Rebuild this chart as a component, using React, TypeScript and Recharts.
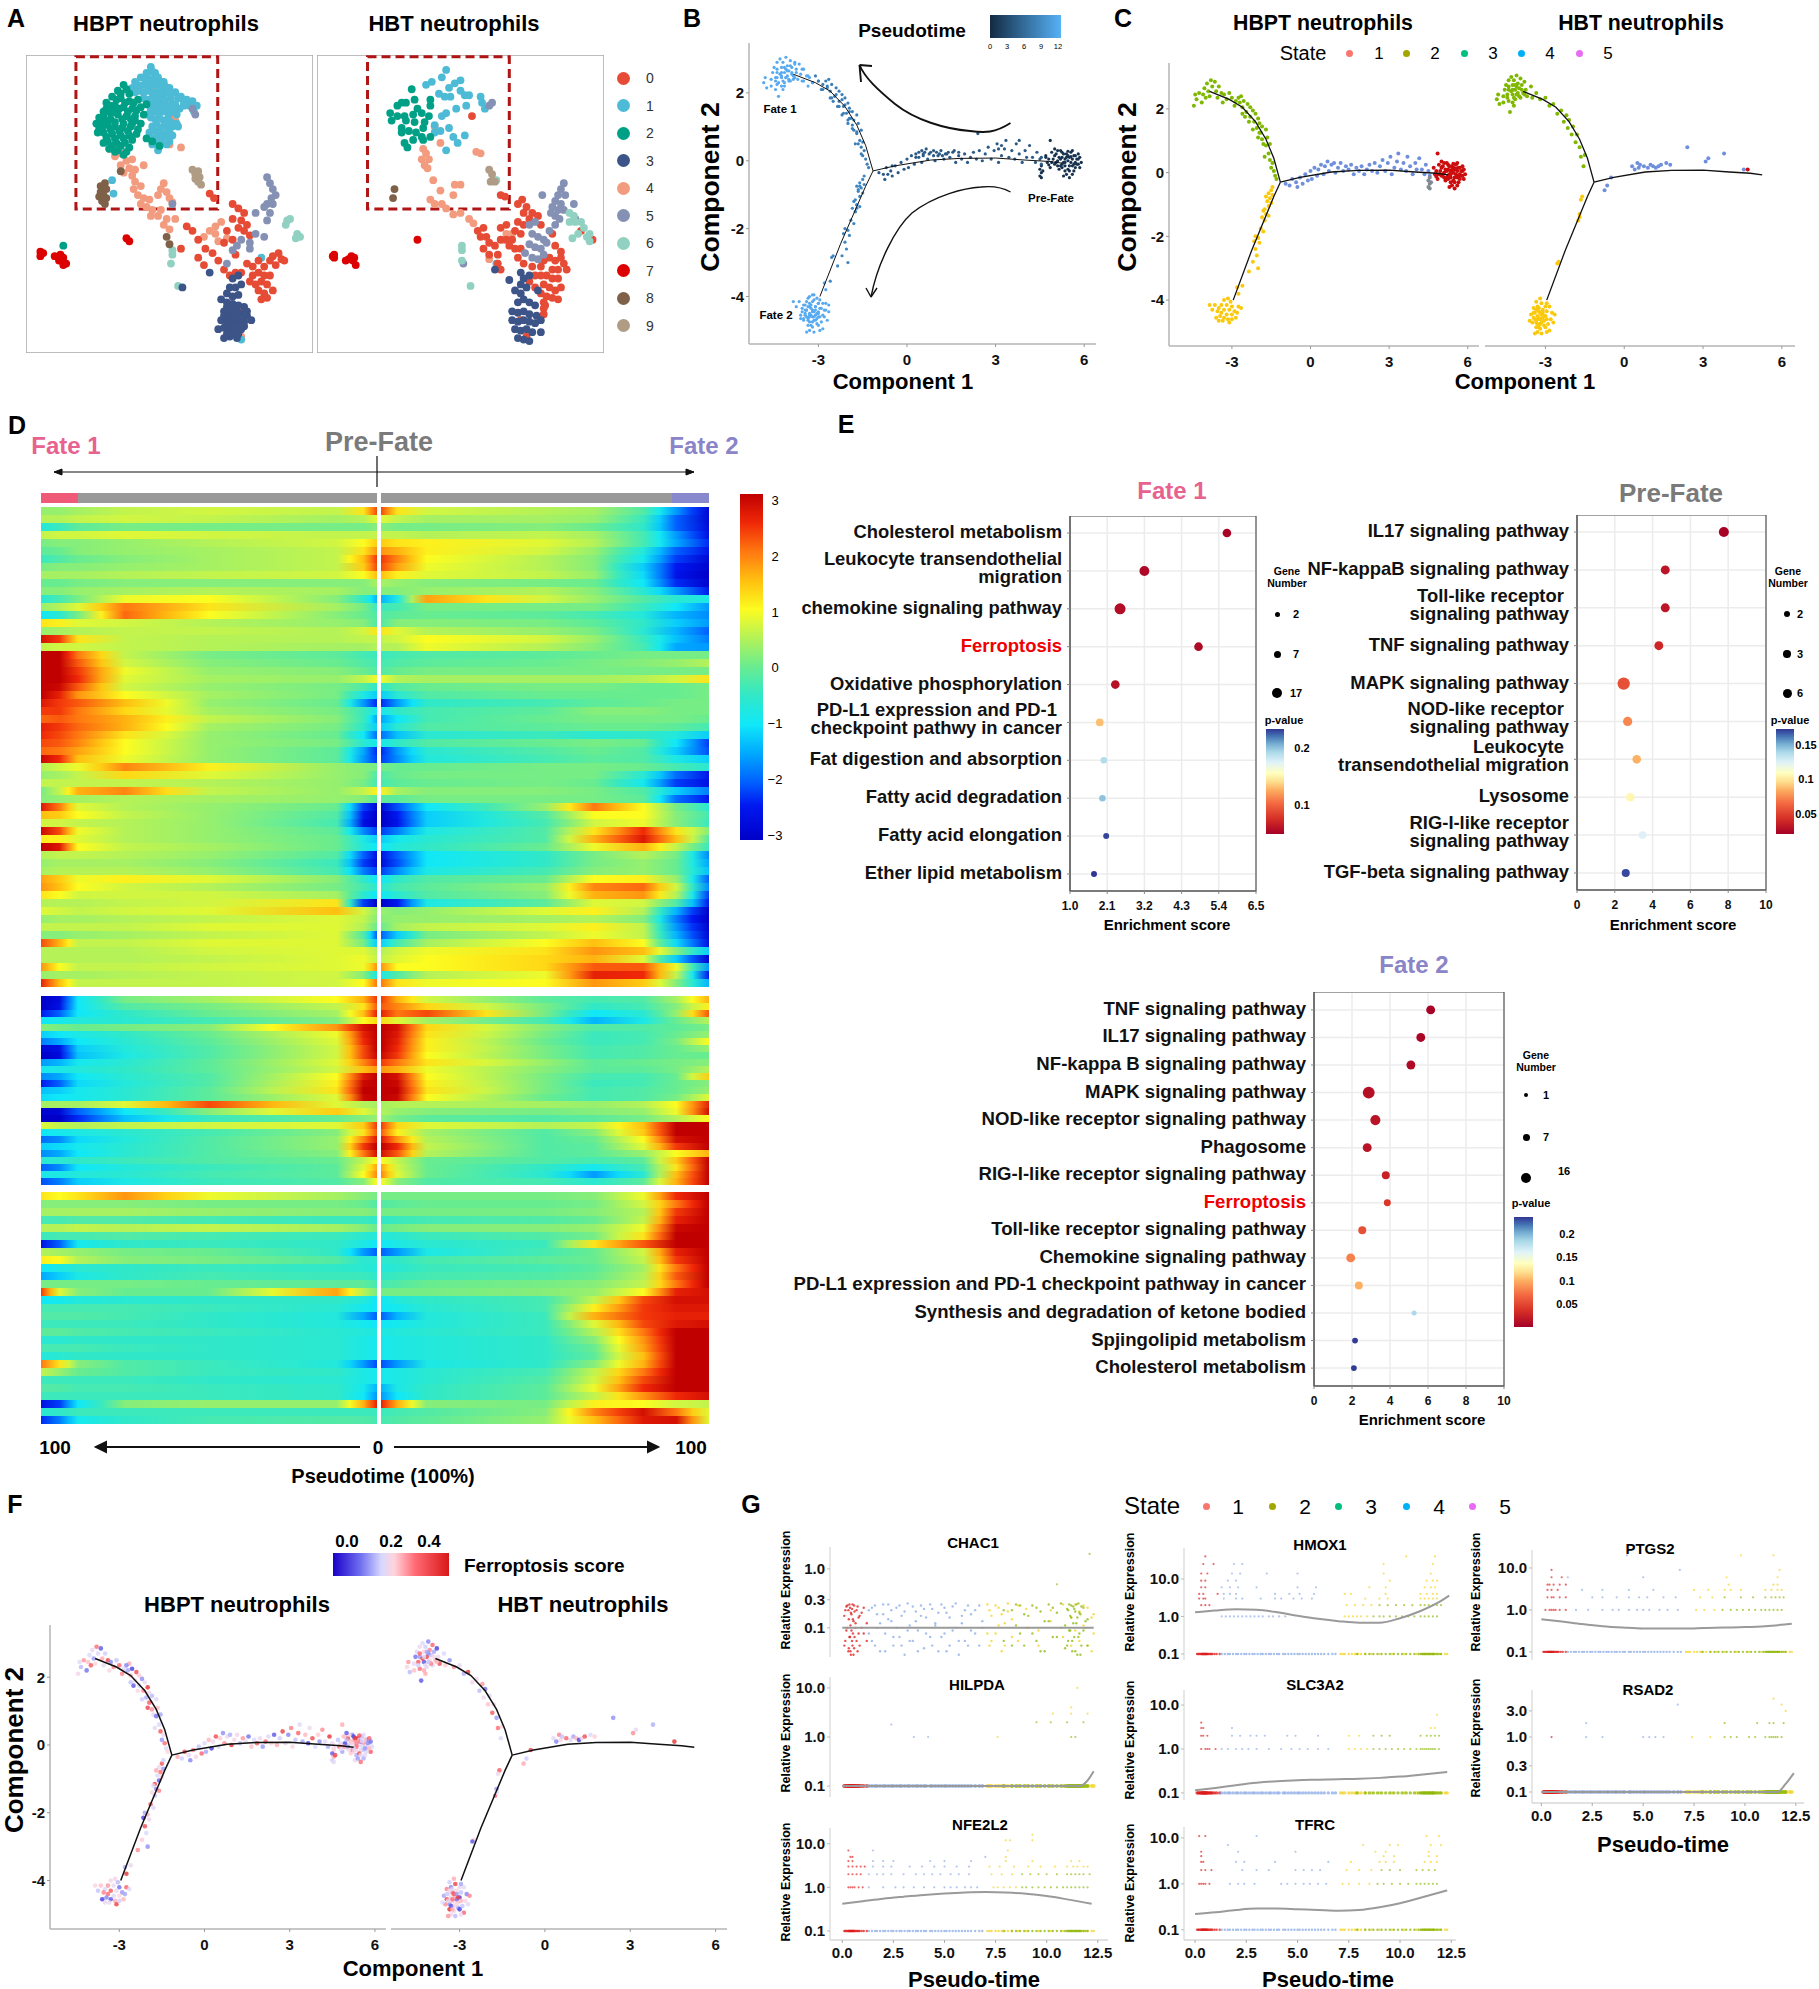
import React from 'react';
import {
  BarChart, Bar, Cell, ScatterChart, Scatter, XAxis, YAxis, ZAxis, CartesianGrid, ReferenceArea,
} from 'recharts';

const FONT = '"Liberation Sans", Arial, sans-serif';

// ---- panel A: tSNE clusters (units: 0-100 across each box)
const clusterColors = ['#e64b35', '#4dbbd5', '#00a087', '#3c5488', '#f39b7f', '#8491b4', '#91d1c2', '#dc0000', '#7e6148', '#b09c85'];
const clusterDrawOrder = [4, 1, 2, 0, 5, 6, 7, 8, 9, 3];

const hbptC0 = [[64,53.5],[65.5,52],[72,50],[74,48.5],[76,47],[75,44.5],[77,43],[76,41],[78,39.5],[74,42],[72,45],[70,41],[72,38],[69,37],[56,42.5],[58,41],[60,38],[62.5,35],[65,33.5],[67,31],[60,32],[62,29.5],[77,30],[79,29],[81,31],[83,29],[85,31],[79,26],[81,27],[83,26],[85,26],[78,24],[80,23],[82,24],[84,23],[81,21],[83,20],[84,18.5],[82,18],[86,21],[86,32.5],[88,33.5],[89,31.5],[87,29.5],[90,31],[69,28],[71,26],[73,27],[75,27],[73,33],[54,35],[75,13.5]];
const hbptC1 = [[43.5,96],[42,94],[45,94],[40,92.5],[43,92],[46,92.5],[48,91],[38,91],[41,90],[44,90],[47,89.5],[50,89],[37,89],[39.5,88],[42.5,88],[45.5,87.5],[48.5,87.5],[52,87.5],[54,86],[56,85],[58,84.5],[59.5,83],[58.5,81],[50.5,85.5],[47,85.5],[44,85.5],[41,85.5],[46,83.5],[49,83],[52,83.5],[55,83],[43,83],[44.5,81],[47.5,81],[50,80.5],[52.5,80],[42,80],[45,78.5],[48,78],[50.5,77.5],[44,76],[47,75.5],[49.5,75],[46,73],[43,74],[48.5,72.5],[45.5,70.5],[50,71],[51,73],[52.5,77],[44,70],[46,68],[53,76],[30,58],[30.5,53.5],[82,32],[75,4.5],[44,94.5],[41.5,92],[44.5,92],[47,91],[39,90],[42.5,90],[45.5,90],[48.5,89.5],[38,87.5],[41,87.5],[44,87.5],[47,87.5],[50,87.5],[53,85.5],[55,84],[57,83],[48.5,85],[45.5,85],[42.5,85],[44.5,83],[47.5,83],[50.5,83],[53.5,82],[43.5,81.5],[46,81],[49,81],[51.5,81.5],[43.5,79],[46.5,79],[49.5,79],[45.5,77],[48.5,76.5],[51,76],[45,74.5],[47.5,73.5],[50,74],[47,71.5],[49,70],[44.5,72],[46.5,69.5]];
const hbptC2 = [[34,90],[32,88],[36,87],[30,86],[33,85.5],[36,84.5],[39,85],[28,84],[31,83],[34,82.5],[37,82],[40,82.5],[27,81],[29.5,80.5],[32,80],[35,79.5],[38,79.5],[25.5,79],[28,78],[31,77.5],[34,77],[37,77],[24.5,77],[26.5,75.5],[29.5,75],[32.5,74.5],[35.5,74.5],[39,75],[25,74],[28,72.5],[31,72],[34,72],[37,71.5],[27,70.5],[30,69.5],[33,69.5],[36,69],[42,72],[44,71],[46.5,69.5],[34,66.5],[42,83.5],[31,67.5],[13,36],[35,88.5],[33,87],[31.5,85],[34.5,84],[37.5,84],[29.5,83],[32.5,82],[35.5,81],[38.5,81.5],[28,82],[30.5,81],[33.5,78.5],[36.5,78.5],[27,79.5],[29.5,78.5],[26,77.5],[28.5,76.5],[31,76],[33.5,75.5],[36.5,76],[38,78],[27,74],[30,73.5],[33,73],[36,73],[38.5,73.5],[28.5,71],[31.5,70.5],[34.5,70.5],[25.5,75.5],[29,68.5],[32,68],[35,67.5],[40,77],[41,80]];
const hbptC3 = [[64,27],[72,25],[74,26],[71,22],[73,22],[75,23],[74,19.5],[72,19],[70,20],[68,18],[70,17],[72,16.5],[74,16],[76,15.5],[69,14],[71,13.5],[73,14],[75,13],[77,12.5],[68,11],[70,11],[72,11],[74,11],[76,10.5],[78.5,11],[67,8],[69,8.5],[71,8],[73,7.5],[75,8],[69,5],[71,5.5],[73.5,5],[77,14],[54.5,22],[70,15.5],[72,14.5],[74,13.5],[76,12.5],[69,12.5],[71,12],[73,12],[75,11.5],[70,9.5],[72,9.5],[74,9],[76,9],[72,6.5],[74,6.5],[70,6.5]];
const hbptC4 = [[29,68.5],[31,66],[33,67],[35,64.5],[37,65],[33,63],[36,62],[38,61.5],[34,60.5],[37,59.5],[41,63],[38,57.5],[40,56],[37.5,55],[39,53],[41,52],[43,51.5],[40,50],[42,49],[44,48],[46,46],[47,48],[43.5,46],[49,45],[46,53],[47,55],[48,57],[49,54],[50,52],[51,50.5],[52,45],[48,43],[50,41.5],[52,79.5],[52,78],[54,69],[50,70],[44.5,88],[64,41],[66,40],[68,44],[66,42.5],[70,38.5],[67,37.5],[62,39],[75,5.5]];
const hbptC5 = [[84,59],[85,57],[86,55],[87,53],[85.5,52],[84,50],[83,49],[80,47],[84,44.5],[85,47],[86,50],[83,39],[80,40],[78,37],[73.5,36],[72,34.5],[78,35],[75,38],[70,30],[58,82],[59,80],[51,50]];
const hbptC6 = [[91,44.5],[90.5,43],[92,45],[94.5,40],[95.5,39],[94,38.5],[51,34.5],[51,33],[50.5,30],[53,22.5]];
const hbptC7 = [[5,34],[6,33.5],[5,32.5],[10,32.5],[12,33],[11.5,31],[13,32],[14,30],[13,29.5],[35,38.5],[36,37.5]];
const hbptC8 = [[26,56],[27.5,57],[28,55],[26,54],[27,53],[28,52],[26.5,51],[25.5,52.5],[27.5,50],[33,61],[49,39],[50,36.5]];
const hbptC9 = [[58,61.5],[59,60],[60,61],[59,58.5],[60.5,59],[60,57.5],[61,56.5]];

const hbtC0 = [[64,53],[65.5,52.5],[71.5,51.5],[70,50],[73,49],[72,47],[75,47],[74,45],[77,46],[70,44],[72,43],[78,43],[69,41],[71,40],[66,43],[64,42],[58,42],[56,41],[57,39],[59,39],[60,37],[62,36],[58,35],[60,33],[63,33],[64,38],[66,38],[68,38],[63,30],[64,28],[67,36],[69,35],[71,35],[70,32],[72,30],[75,29],[78,29],[81,32],[83,31],[85,32],[82,28],[84,28],[86,30],[80,26],[82,25],[84,25],[79,23],[81,22],[83,21],[85,22],[80,19],[82,18.5],[84,18],[79,31],[76,26],[78,26],[74,24],[76,22],[78,20],[79,17],[79.5,16],[85,34],[87,28],[79,13],[96,38],[92,41],[82,40],[83,36],[79,15],[71,11],[73,5.5],[54,79.5]];
const hbtC1 = [[45,95],[43.5,92.5],[40,91],[38,90],[50,91.5],[48,90.5],[46,89],[42.5,87],[44.5,86],[46.5,86],[50,88],[51.5,86.5],[53,86.5],[57,86],[57.5,84],[58.5,82],[52,83],[48.5,82],[45,80.5],[43.5,79.5],[41,76.5],[43,74.5],[46,75.5],[47.5,72.5],[51.5,73],[49,70.5],[45,68],[41,74],[62.5,30]];
const hbtC2 = [[33,88.5],[29.5,84],[31,84],[28,83],[34,85],[39.5,85],[39.5,83],[35,82],[25.5,80.5],[28,79.5],[30.5,79.5],[33.5,80],[36.5,80.5],[39,79.5],[26,78],[31,78],[34,77.5],[37.5,77.5],[29.5,75.5],[32,74.5],[29.5,74],[34.5,74],[37,75.5],[36.5,72.5],[33.5,71.5],[30.5,70.5],[31.5,69],[37,71.5],[39.5,72.5]];
const hbtC3 = [[62,28],[67,24.5],[71,27],[72,25],[74,26],[71,23],[73,22],[69,21],[71,20],[70,17],[72,18],[74,17],[76,16],[68,14],[70,13.5],[72,14],[74,13],[76.5,12.5],[68,11],[70,10.5],[72,11],[74,10.5],[76,10],[78,11],[69,8],[71,7.5],[73,8],[75,7],[70,5],[72,4.5],[74,4],[77,21],[78,7]];
const hbtC4 = [[41,76],[37,68.5],[38,67],[36.5,65],[39,65],[37.5,63],[38.5,62],[40.5,58],[48,56.5],[50,56.5],[43,54.5],[47.5,53],[39.5,51.5],[41,50],[43.5,50],[45,48.5],[47.5,46.5],[50,47],[53,45],[54.5,43.5],[55.5,67.5],[57,67],[43,70.5],[66,40],[68,40],[65,38],[60,31.5]];
const hbtC5 = [[86,57],[85,55],[84,53],[86.5,53],[83,51],[85,50],[82,49],[84,48],[86,48],[83,46],[81.5,47],[84.5,45],[83,43],[78.5,53],[89.5,50],[90,45],[75,40],[77,39],[79,38],[74,36.5],[76,35.5],[78,35],[80,37],[72.5,33.5],[75,32],[77,31.5],[79,33],[81,41],[74,43],[76,44],[51,30],[61,84],[60,83]];
const hbtC6 = [[62.5,58],[88,47],[89.5,46],[90,44],[92,44],[93,42],[95,40],[94,39],[91,40],[88,44],[95,37.5],[89,38.5],[50.5,36],[50.5,34.5],[50.5,31],[53.5,22.5]];
const hbtC7 = [[5.5,32.5],[6,32],[6,33],[10,31],[12,32.5],[12.5,31],[13.5,29.5],[13,32],[11,31.5],[35,38]];
const hbtC8 = [[27,55],[26.5,52]];
const hbtC9 = [[60,61.5],[61,60],[60.5,57.5],[62,57.5]];

const hbptClusters = [hbptC0, hbptC1, hbptC2, hbptC3, hbptC4, hbptC5, hbptC6, hbptC7, hbptC8, hbptC9];
const hbtClusters = [hbtC0, hbtC1, hbtC2, hbtC3, hbtC4, hbtC5, hbtC6, hbtC7, hbtC8, hbtC9];

// ---- panels B, C, F: monocle trajectory cells in component coordinates
const hbptFate1 = [[-4.45,2.1],[-4.35,2.3],[-4.25,2.5],[-4.4,2.45],[-4.15,2.2],[-4.1,2.45],[-4.05,2.65],[-4,2.35],[-3.95,2.8],[-3.9,2.55],[-3.8,2.9],[-3.75,2.7],[-3.85,2.4],[-3.65,2.85],[-3.6,2.55],[-3.5,2.7],[-3.4,2.5],[-3.55,2.35],[-3.3,2.45],[-3.2,2.3],[-3.35,2.2],[-3.1,2.5],[-3,2.35],[-2.85,2.25],[-2.7,2.2],[-2.6,2.05],[-2.55,2.25],[-2.45,1.9],[-2.4,2.15],[-2.3,1.75],[-2.3,2.05],[-2.2,1.95],[-2.15,1.6],[-2.1,1.85],[-2.05,1.4],[-2,1.7],[-1.95,1.55],[-1.9,1.25],[-1.85,1.45],[-1.85,1.05],[-1.8,.9],[-1.7,.85],[-1.65,1.1],[-1.6,.6],[-1.55,.4],[-1.45,.3],[-1.5,.15],[-1.4,.05],[-1.35,-.1],[-1.3,-.2],[-2.5,1.75],[-2.65,2.4],[-2.2,1.35],[-2,1.1],[-1.75,.5],[-2.75,2.35],[-2.9,2.1],[-2.35,1.6],[-2.6,1.85],[-1.95,1.25],[-1.7,1.35],[-1.55,.9]];
const hbptFate2 = [[-1.5,-.55],[-1.6,-.65],[-1.45,-.7],[-1.55,-.8],[-1.65,-.9],[-1.5,-.95],[-1.6,-1.05],[-1.7,-.75],[-1.45,-.45],[-1.75,-1.15],[-1.8,-1.2],[-1.7,-1.3],[-1.6,-1.35],[-1.85,-1.4],[-1.75,-1.5],[-1.9,-1.75],[-1.8,-1.85],[-2.1,-2],[-2,-2.05],[-2.15,-2.15],[-1.95,-2.2],[-2.1,-2.4],[-2.05,-2.6],[-2.2,-2.8],[-2,-3],[-2.35,-3.1],[-2.6,-3.55],[-2.8,-3.6],[-2.75,-3.8],[-3.3,-4],[-3.15,-3.95],[-3.05,-4.05],[-3.4,-4.15],[-3.2,-4.15],[-3,-4.2],[-3.65,-4.15],[-3.5,-4.25],[-3.3,-4.3],[-3.1,-4.3],[-2.9,-4.35],[-3.4,-4.4],[-3.2,-4.45],[-3,-4.45],[-3.3,-4.55],[-3.15,-4.6],[-3,-4.6],[-3.1,-4.7],[-3.35,-4.65],[-3.45,-4.5],[-3.55,-4.35],[-3.85,-4.15],[-3.75,-4.3],[-2.75,-4.2],[-2.65,-4.25],[-2.8,-4.4],[-2.85,-4.55],[-3.6,-4.55],[-3.5,-4.65]];
const hbptMid = [[-.95,-.35],[-.8,-.4],[-.7,-.2],[-.55,-.3],[-.5,-.45],[-.4,-.15],[-.3,-.35],[-.2,-.05],[-.1,-.25],[0,.05],[.05,-.2],[.15,.15],[.25,-.1],[.3,.1],[.4,.25],[.5,-.05],[.55,.2],[.65,.35],[.7,.05],[.8,.25],[.9,.3],[.95,0],[1.05,.15],[1.15,.3],[1.25,.05],[1.35,.2],[1.45,.1],[1.55,.25],[1.65,-.05],[1.75,.15],[1.85,.05],[1.95,.2],[2.05,-.05],[2.15,.1],[2.25,.25],[2.35,.05],[2.45,.3],[2.55,0],[2.65,.2],[2.75,.4],[2.85,.05],[2.95,.3],[3.05,.5],[3.1,-.05],[3.2,.15],[3.3,.35],[3.35,.6],[3.45,.1],[3.55,.3],[3.65,.05],[3.7,.5],[3.8,.2],[3.9,-.05],[4,.3],[4.05,.1],[4.15,.45],[4.25,.1],[4.35,-.05],[4.4,.25],[4.5,.05],[4.55,-.1]];
const hbptRoot = [[4.7,.15],[4.75,-.05],[4.8,.05],[4.85,-.2],[4.9,.25],[4.95,.05],[5,-.1],[5.05,.2],[5.1,0],[5.15,-.25],[5.2,.3],[5.25,.1],[5.3,-.05],[5.35,-.3],[5.4,.2],[5.45,0],[5.5,-.15],[5.55,.25],[5.6,.05],[5.65,-.3],[5.7,.15],[5.75,-.1],[5.8,.05],[5.85,-.2],[5.3,-.45],[5.4,-.4],[5.5,-.5],[5.6,.3],[5.1,.3],[5,.35],[4.85,.6],[5.45,.15],[5.2,-.15],[5.7,-.05],[5.5,.1],[5.35,.05],[5.25,-.2],[5.6,-.15],[5.8,.2],[5.9,-.05],[5.05,-.05],[5.15,.1],[5.25,.25],[5.35,-.15],[5.45,-.25],[5.55,-.05],[5.65,.15],[5.75,.05],[5.4,.1],[5.5,-.3],[5.6,-.4],[5.3,.2],[5.2,.05],[5.1,-.15],[5,.15],[4.9,-.05],[4.8,-.12],[5.85,.1],[5.8,-.1],[5.7,-.2],[5.45,.28],[5.55,.12],[5.65,-.1],[5.35,-.05],[5.25,-.1]];
const hbptGrey = [[4.55,-.15],[4.5,-.25],[4.55,-.35],[4.5,-.45],[4.6,-.3],[4.55,-.5]];

const hbtFate1 = [[-4.85,2.3],[-4.75,2.15],[-4.8,2.45],[-4.6,2.4],[-4.55,2.6],[-4.6,2.2],[-4.5,2.75],[-4.45,2.45],[-4.4,2.9],[-4.4,2.6],[-4.4,2.25],[-4.3,3],[-4.25,2.75],[-4.25,2.45],[-4.2,2.1],[-4.2,2.9],[-4.15,2.6],[-4.15,2.3],[-4.1,3.05],[-4.05,2.8],[-4.05,2.5],[-4,2.65],[-3.95,2.95],[-3.95,2.35],[-3.9,2.75],[-3.85,2.5],[-3.8,2.85],[-3.75,2.6],[-3.7,2.4],[-3.55,2.7],[-3.5,2.35],[-3.35,2.5],[-3.2,2.3],[-3,2.35],[-2.85,2.1],[-2.7,2.15],[-2.55,1.85],[-2.4,1.95],[-2.3,1.6],[-2.2,1.8],[-2.15,1.4],[-2.1,1.65],[-2,1.2],[-1.95,1.45],[-1.85,.95],[-1.8,1.2],[-1.7,.8],[-1.65,.5],[-1.55,.2],[-1.5,.55],[-4.35,1.9],[-4.25,2.2],[-4.45,2.35],[-4.3,2.55],[-4.2,2.35],[-4.1,2.7],[-4,2.4],[-3.9,2.6],[-4.1,2.45],[-4.4,2.7],[-4.25,2.6],[-4.15,2.75],[-3.8,2.45]];
const hbtFate2 = [[-1.6,-.75],[-1.65,-.85],[-1.7,-1.3],[-1.75,-1.5],[-1.7,-1.4],[-2.5,-2.8],[-2.55,-2.85],[-3.2,-3.95],[-3.35,-4.05],[-3.15,-4.1],[-3,-4.2],[-3.3,-4.2],[-3.45,-4.25],[-3.1,-4.3],[-2.95,-4.35],[-3.25,-4.35],[-3.4,-4.4],[-3.55,-4.45],[-3.15,-4.45],[-3,-4.5],[-3.3,-4.5],[-3.45,-4.55],[-3.2,-4.6],[-3.05,-4.65],[-3.35,-4.7],[-3.5,-4.7],[-3.2,-4.75],[-3.05,-4.8],[-3.35,-4.85],[-3.2,-4.9],[-3.3,-5],[-3.15,-5.05],[-3.4,-5.05],[-3.25,-4.25],[-3.1,-4.55],[-3.3,-4.6],[-3.6,-4.65],[-3.2,-4.4],[-3.35,-4.3],[-3.1,-4.4],[-3.25,-4.55],[-3.4,-4.6],[-3.15,-4.7],[-3.3,-4.75],[-3.25,-4.85],[-3.45,-4.4],[-3.05,-4.5],[-2.85,-4.2],[-2.75,-4.4],[-2.65,-4.45],[-2.8,-4.6],[-2.9,-4.75],[-2.85,-4.95],[-2.7,-4.7],[-2.95,-4.1],[-2.95,-4.6],[-3,-4.85],[-2.95,-5]];
const hbtMid = [[-.75,-.55],[-.65,-.4],[-.5,-.15],[.3,.2],[.4,.1],[.5,.3],[.55,.15],[.6,.25],[.75,.2],[.9,.15],[1,.25],[1.1,.2],[1.2,.15],[1.3,.2],[1.4,.25],[1.6,.3],[1.75,.25],[2.4,.8],[3.1,.35],[3.2,.45],[3.8,.6],[4.55,.1]];
const hbtRoot = [[4.7,.1]];

const trunkFate1 = [[-1.15,-.3],[-1.4,.45],[-1.7,1.05],[-2.1,1.6],[-2.6,2.05],[-3.1,2.3],[-3.85,2.55]];
const trunkFate2 = [[-1.15,-.3],[-1.4,-.75],[-2.25,-2.45],[-2.95,-4]];
const trunkRoot = [[-1.15,-.3],[-.4,-.15],[.8,.02],[1.8,.07],[3,.08],[4,.02],[4.8,-.02],[5.25,-.07]];

const compXTicks = [-3, 0, 3, 6];
const compYTicks = [-4, -2, 0, 2];

const pseudoTicks = ['0', '3', '6', '9', '12'];
const stateLabels = ['1', '2', '3', '4', '5'];
const stateDots = ['#f8766d', '#a3a500', '#00bf7d', '#00b0f6', '#e76bf3'];

// ferroptosis score per cell, read along each branch
const scoreSeq = [.22,.15,.3,.2,.08,.26,.18,.38,.21,.12,.34,.19,.24,.05,.28,.17,.42,.2,.1,.32,.23,.16,.36,.19,.13,.27,.02,.21,.4,.18,.25,.11,.31,.2,.14,.45,.22];

// ---- panel D: heatmap rows, [7 stops left of the root, root, 7 stops right of it]
const heatTop = [
  [.3,.3,.4,.6,.7,.6,1.2,2.3,1.2,.7,.5,.4,-.2,-1.6,-2.8],[.5,.5,.6,.7,.6,.4,.5,.8,.6,.4,.4,.3,-.4,-2,-2.8],
  [-.7,-.4,-.1,.1,.1,.1,.1,.2,.1,.1,.2,0,-.5,-2,-2.7],[.6,.7,.7,.8,.7,.6,.6,.6,.6,.5,.6,.4,-.3,-1.6,-2.6],
  [.1,.2,.2,.3,.5,.7,1,1.4,1.2,1.1,.8,.5,-.3,-1.5,-2.3],[-.1,0,.2,.3,.4,.6,1.2,1.8,1.6,1.1,.7,.3,-.7,-2,-2.5],
  [-.4,-.2,0,.2,.4,.6,1.5,2.4,1.9,1,.5,.2,-.9,-2.2,-2.8],[.1,.2,.2,.3,.4,.6,1.4,2.3,1.7,.9,.5,.2,-1.2,-2.4,-2.9],
  [.4,.4,.4,.5,.6,.7,1,1.5,1.1,.8,.6,.3,-1.1,-2.5,-3],[0,0,.1,.2,.2,.2,.2,.4,.3,.2,.1,0,-1,-2.3,-2.9],
  [.2,.2,.3,.4,.5,.4,.2,.2,.2,.3,.5,.2,-.6,-1.6,-2.4],[-.6,-.3,.1,.9,1,.2,-.5,-1.4,-.8,1.7,.7,.3,-.2,-.6,-.8],
  [.3,.5,.8,2,1.2,.4,.1,-.4,-.3,.1,.1,.1,-.4,-1,-1.6],[-1,-.6,.1,2.1,1,.2,0,-.2,-.1,0,-.1,-.3,-.7,-1.4,-1.7],
  [1.2,1.1,.8,.7,.5,.3,.2,-.2,.2,.2,.1,-.1,-.5,-1.2,-1.6],[.3,.4,.5,.6,.6,.5,.7,1.2,.8,.5,.3,.1,-.6,-1.4,-2],
  [2.8,2.4,1.2,.6,.5,.5,.6,.6,.7,1,.7,.3,-.4,-1.3,-1.8],[.6,.7,.7,.6,.5,.4,.4,.5,.5,.9,.5,.2,-.3,-1.5,-1.6],
  [3,3,2,.6,.1,-.1,-.3,-.4,-.3,-.2,-.1,0,.1,.1,.1],[3,3,2.2,.7,.2,0,-.2,-.3,-.2,-.1,0,.1,.2,.3,.5],
  [3,3,2.4,.9,.3,.2,0,-.2,0,.1,.1,.1,.1,.1,.1],[3,3,2.5,.8,.4,.3,.6,.9,.5,.4,.4,.4,.5,.7,1.2],
  [3,2.9,2.2,.7,.3,.1,-.2,-.5,-.2,0,.1,.1,0,0,.1],[3,2.6,1.8,1,.4,.1,-.8,-1.2,-.6,-.2,0,0,0,0,.1],
  [2.7,2.4,2.2,1.5,.3,0,-1.6,-2.3,-1.6,-.5,-.3,-.1,0,.1,.1],[2.4,2.4,2,1.3,.4,.1,-.4,-.9,-.5,-.3,-.1,.2,.2,.1,.1],
  [2.1,2.2,2,1.6,.6,.2,-.4,-1.5,-1,-.3,0,.1,.1,.1,0],[2.6,2.4,2.1,1.6,.4,.1,-.5,-1.2,-.6,-.2,-.1,0,0,-.1,-.3],
  [2.5,2.3,2,1.2,.3,0,-1,-1.9,-1.3,-.6,-.4,-.6,-.5,-.7,-1.2],[2.3,2.2,1.9,1,.3,.1,-.6,-.9,-.5,-.2,0,.1,0,-1,-2.2],
  [2.1,2,1.7,1,.3,-.1,-1.5,-2.3,-1.6,-.6,-.2,0,-.2,-1.2,-2.1],[2.9,2.5,1.5,.9,.3,-.1,-1.6,-2.2,-1.7,-.7,-.3,-.1,-.2,-.8,-1.2],
  [.5,.7,.9,1.9,1.1,.3,.2,.1,0,0,.1,.1,0,-.3,-.6],[.3,.4,.6,1.3,.8,.3,.2,-.2,0,.1,.1,.1,-.6,-1.9,-2.5],
  [.6,.6,.6,.6,.5,.3,.1,-.3,-.1,0,.1,0,-.9,-2.2,-2.6],[.1,.6,1.6,1.9,.6,.3,.6,1.1,.4,.2,.2,.1,-.2,-1.2,-1.8],
  [.2,.3,.4,.5,.4,.3,.2,-.1,-.1,.1,.1,.1,-.1,-1.9,-2.4],[2.7,2,.8,.5,.3,0,-2.2,-2.8,-2.1,-1,.3,2,1,.1,-.6],
  [1.5,1.4,1,.6,.3,-.2,-2.4,-3,-2.4,-1.2,-.2,1,1,.2,-.3],[.7,.7,.6,.5,.3,-.3,-2.6,-3,-2.5,-1.2,-.3,.7,.9,.2,-.4],
  [2.9,2.3,.9,.5,.3,-.1,-1.7,-2.2,-1.8,-.8,-.2,1.2,2.5,1.2,.2],[1.1,1.1,.8,.5,.3,0,-.8,-1.2,-.9,-.6,-.2,1.6,2.7,1.5,-.2],
  [3,2.7,1,.6,.4,0,-.7,-1,-.7,-.5,0,.9,1.6,.6,-.4],[.5,.6,.6,.5,.3,-.2,-2,-2.6,-2,-1,-.5,.1,.5,.1,-1.7],
  [.3,.4,.4,.4,.2,-.4,-2.2,-2.7,-2.1,-1,-.5,.1,.3,0,-1.5],[.4,.5,.5,.5,.3,-.3,-1.8,-2.2,-1.7,-.8,-.3,.2,.3,0,-1.3],
  [1.7,1.4,.9,1.1,.8,.2,-.5,-1,-.5,-.2,0,1,1.1,.3,-2],[1.8,1.5,1,.7,.5,.1,-.3,-.6,-.3,-.1,.3,1.9,2.1,.7,-1.7],
  [1.2,1,.7,.7,.7,.4,-.6,-1,-.6,-.2,.2,1.6,1.8,.5,-2.2],[.5,.5,.5,.6,.7,1.2,-2.2,-3,-2.4,-.8,-.1,.8,.7,-.2,-2.4],
  [.8,.7,.6,.7,.8,1.5,.7,.3,.2,.3,.8,1.1,.5,-1.4,-3],[.3,.4,.4,.5,.6,.8,.6,.2,.3,.3,.4,.5,.2,-1.8,-3],
  [.6,.6,.6,.6,.8,.8,.5,0,.4,.6,.8,1.1,.6,-1.6,-2.9],[.2,.2,.3,.4,.6,.8,-.2,-2,-1.2,.1,.6,.9,.6,-1.4,-2.8],
  [2.3,1.6,.6,.6,.8,.8,.1,-1.2,-.3,.4,1,1.5,1,-1.1,-2.6],[.5,.5,.5,.5,.7,.8,.8,.5,.7,.9,1.2,1.8,1.5,.2,-1.2],
  [.5,.5,.5,.5,.6,.8,.9,.6,.8,1,1.3,1.6,.8,-1.2,-2.9],[1.8,1,.6,.6,.7,.8,.9,1.8,1,1,1.3,2.2,2.2,.9,-1.6],
  [.3,.4,.4,.5,.6,.7,.2,-.8,-.2,.5,.9,2.6,2.5,.6,-2.4],[2.6,1.5,.6,.6,.6,.7,1,2,1.2,.9,1,1.8,1.4,.2,-1.4],
];
const heatMid = [
  [-3,-2.7,-1,.1,.4,1,1.6,2.4,1.6,.7,-.1,-.3,-.2,.4,1.6],[-3,-2.6,-1,-.2,.1,.6,1.2,2.2,1.9,1.3,.1,-.5,-.3,.2,1.1],
  [-2.4,-2,-1,-.5,0,.4,1.5,2.6,2,2.3,.1,-1,-.6,.3,2.2],[-1,-.9,-.7,-.6,-.3,.2,1,1.3,.8,.4,-.3,-1.4,-.8,0,.5],
  [.2,.1,0,.1,.2,1.8,2.8,3,2.8,1.3,.2,-.2,-.2,-.1,.1],[-1.2,-1,-.8,-.5,0,.9,2.6,3,2.7,1.2,.1,-.4,-.3,0,.3],
  [-1.8,-1.5,-1,-.6,-.1,.8,2.5,3,2.6,1.1,0,-.4,-.3,.1,1],[-2.8,-2.6,-1.2,-.7,-.2,.7,2.3,3,2.5,1.1,.1,-.3,-.2,0,.3],
  [-3,-2.7,-1.3,-.8,-.2,.7,2.3,2.9,2.4,1,.1,-.3,-.2,0,0],[-1.6,-1.4,-.9,-.6,-.1,.8,1.9,2.4,2,1.2,.3,-.1,0,.1,.2],
  [-.9,-.8,-.7,-.5,-.1,.7,1.5,1.8,1.6,.9,.2,-.1,-.1,.1,.5],[-1.7,-1.5,-1,-.6,-.2,1,2.7,3,2.8,1,.1,-.3,-.3,0,1.4],
  [-2.4,-2,-1.1,-.7,-.2,1.1,2.9,3,2.9,1.1,.1,-.4,-.3,0,.2],[-1.3,-1.2,-.9,-.6,-.1,1.2,3,3,3,1.2,.1,-.3,-.2,0,.3],
  [-1.1,-1,-.9,-.6,-.1,.8,2.9,3,2.9,1,0,-.3,-.2,.1,.8],[.4,.4,.4,.8,2.3,.8,.5,.4,.5,.5,.4,.3,.5,1,2.6],
  [-2.9,-2.8,-2,-1,.2,1.4,.8,.5,.3,.2,.1,.2,.3,.9,2.8],[-3,-3,-2.3,-1.3,-.4,0,.2,.3,.1,-.1,-.2,-.1,.1,.5,1],
  [.8,.6,.5,.6,.7,.8,1.4,2.4,1.3,.8,.5,.6,1.5,3,3],[-1,-.9,-.8,-.6,-.3,.2,1.2,2.2,1.1,.4,-.2,.2,1.4,3,3],
  [-1.9,-1.7,-1.1,-.7,-.2,.3,1.9,2.7,1.8,.5,-.2,0,1,2.8,3],[-1.2,-1.1,-.9,-.6,-.2,.3,2.4,3,2.5,.6,-.2,-.1,.8,2.4,3],
  [-1.7,-1.5,-1,-.6,-.2,.2,2,2.8,2.2,.5,-.2,-.1,.3,1,1.6],[-.6,-.6,-.5,-.4,-.2,0,.6,1,.6,0,-.2,-.3,-.1,1.4,3],
  [-2,-1.7,-1,-.7,-.4,-.1,.8,1.7,.7,0,-.5,-.9,-.3,1.2,3],[-.8,-.8,-.7,-.6,-.3,-.1,1,1.9,.8,0,-.6,-1.6,-.6,1.5,3],
  [-2.1,-1.8,-1.2,-.8,-.4,-.2,.2,1,.2,-.2,-.3,-.6,-.1,1.6,3],
];
const heatBottom = [
  [1.2,1,1.2,1.8,.9,.4,.2,.1,.1,.1,.1,.2,.9,2.5,3],[.2,.2,.2,.2,.1,.1,0,-.2,-.1,0,0,.1,.7,2,3],
  [.4,.4,.4,.4,.3,.2,.2,.1,.1,.1,.1,.2,.5,2.4,3],[-.3,-.3,-.2,-.2,-.3,-.4,-.4,-.5,-.4,-.3,-.2,0,.6,2.6,3],
  [.5,.5,.6,.5,.6,.4,.2,0,.1,.2,.2,.3,.9,2.9,3],[-.4,-.3,-.3,-.2,-.3,-.4,-.6,-.7,-.6,-.4,-.2,.1,1.2,3,3],
  [-2.6,-2,-.9,-.5,-.4,-.5,-.8,-1,-.8,-.6,-.4,1.2,2.2,3,3],[.5,.4,.3,.1,0,-.5,-1.6,-2,-1.6,-.8,-.3,0,.7,2.6,3],
  [1.1,1,.5,.2,.1,-.2,-.6,-.6,-.5,-.3,-.1,0,.6,2.4,3],[-1,-.8,-.6,-.5,-.4,-.5,-.6,-.7,-.6,-.4,-.3,-.1,.4,2,3],
  [-1.5,-1.2,-.8,-.5,-.3,-.4,-.4,-.5,-.4,-.3,-.2,0,.5,2.2,3],[.1,.1,.1,.1,0,-.1,-.1,-.3,-.2,0,.1,.2,.6,2,3],
  [2.4,.8,.2,0,0,1.7,.5,.1,.1,.1,.2,.3,1,2.6,2.8],[-1,-.9,-.7,-.6,-.5,-.5,-.7,-1,-.7,-.5,-.3,.6,2.3,2.8,2.8],
  [-.3,-.3,-.3,-.3,-.4,-.6,-.9,-1,-.9,-.6,-.3,1.1,2.4,2.7,2.7],[-.2,-.2,-.2,-.3,-.5,-.7,-1.5,-2,-1.4,-.7,-.4,1.6,2.4,2.6,2.6],
  [-.4,-.4,-.4,-.4,-.5,-.7,-.9,-1,-.9,-.7,-.4,.8,2.3,2.7,2.8],[-.1,-.1,-.2,-.3,-.4,-.6,-.7,-.8,-.7,-.6,-.4,.5,2,3,3],
  [-.6,-.6,-.5,-.5,-.5,-.6,-.8,-.9,-.8,-.7,-.5,.2,1.8,3,3],[-.3,-.3,-.3,-.4,-.5,-.6,-.8,-.9,-.8,-.7,-.5,0,1.7,3,3],
  [-.7,-.6,-.5,-.5,-.5,-.6,-.8,-.9,-.8,-.7,-.5,-.1,1.5,3,3],[2,1.2,.2,-.2,-.4,-.7,-1.6,-2.1,-1.6,-.8,-.5,.2,1.6,3,3],
  [.6,.3,0,-.2,-.4,-.5,-.8,-.9,-.8,-.6,-.3,.6,2,3,3],[-.4,-.4,-.4,-.4,-.5,-.6,-.8,-.9,-.8,-.6,-.2,.7,2.3,3,3],
  [-.2,-.2,-.3,-.3,-.4,-.5,-.9,-1.4,-.8,-.5,-.1,.9,2.5,3,3],[-.4,-.4,-.4,-.4,-.4,-.5,-1,-1.6,-1,-.5,-.1,.6,1.8,2.5,2.8],
  [-2.6,-2.2,-1,.2,.3,.3,1.6,2.6,1.6,.2,.1,1.1,1,.7,.6],[-.6,-.5,-.4,-.4,-.4,-.4,-.4,-.4,-.3,-.2,.2,1.9,2.8,2,.8],
  [-2.3,-1.8,-.9,-.5,-.3,-.2,-.2,-.3,-.2,-.1,.3,1.5,2.7,2.8,.8],
];
const heatLeftStops = [0, .055, .11, .25, .5, .88, .96, 1];
const heatRightStops = [0, .05, .14, .5, .65, .8, .9, 1];
const heatScaleTicks = ['3', '2', '1', '0', '\u22121', '\u22122', '\u22123'];

const jetStops: [number, string][] = [[-3,'#0000c8'],[-2.4,'#0018f0'],[-2,'#0060ff'],[-1.5,'#00a8ff'],[-1,'#10e8f8'],[-.5,'#30e8c8'],[0,'#68ec90'],[.5,'#b4f258'],[1,'#fcfc20'],[1.5,'#ffc010'],[2,'#ff7810'],[2.5,'#f02808'],[3,'#c00000']];
const rdylbuStops: [number, string][] = [[0,'#a50026'],[.15,'#d73027'],[.3,'#f46d43'],[.42,'#fdae61'],[.5,'#fee090'],[.58,'#ffffbf'],[.68,'#e0f3f8'],[.78,'#abd9e9'],[.86,'#74add1'],[.93,'#4575b4'],[1,'#313695']];
const scoreStops: [number, string][] = [[-.05,'#1a00c8'],[.08,'#6f6ff0'],[.18,'#d8d8ff'],[.24,'#ffd4dc'],[.34,'#ff6a74'],[.5,'#d81818']];

// ---- panel E: enrichment bubbles
const fate1Pathways = ['Cholesterol metabolism', 'Leukocyte transendothelial\nmigration', 'chemokine signaling pathway', 'Ferroptosis', 'Oxidative phosphorylation', 'PD-L1 expression and PD-1 \ncheckpoint pathwy in cancer', 'Fat digestion and absorption', 'Fatty acid degradation', 'Fatty acid elongation', 'Ether lipid metabolism'];
const fate1Scores = [5.64, 3.2, 2.48, 4.8, 2.34, 1.88, 2, 1.96, 2.07, 1.71];
const fate1Genes = [7, 10, 13, 7, 7, 5, 3, 3, 2, 2];
const fate1Pvalues = [.052, .055, .057, .055, .06, .132, .19, .2, .23, .233];
const fate1XTicks = [1, 2.1, 3.2, 4.3, 5.4, 6.5];

const preFatePathways = ['IL17 signaling pathway', 'NF-kappaB signaling pathway', 'Toll-like receptor \nsignaling pathway', 'TNF signaling pathway', 'MAPK signaling pathway', 'NOD-like receptor \nsignaling pathway', 'Leukocyte \ntransendothelial migration', 'Lysosome', 'RIG-I-like receptor\nsignaling pathway', 'TGF-beta signaling pathway'];
const preFateScores = [7.77, 4.67, 4.67, 4.33, 2.47, 2.68, 3.16, 2.82, 3.47, 2.58];
const preFateGenes = [4, 3.2, 3.2, 3.2, 6, 3.4, 3, 3, 2.4, 2.6];
const preFatePvalues = [.021, .03, .03, .038, .055, .073, .085, .105, .125, .17];

const fate2Pathways = ['TNF signaling pathway', 'IL17 signaling pathway', 'NF-kappa B signaling pathway', 'MAPK signaling pathway', 'NOD-like receptor signaling pathway', 'Phagosome', 'RIG-I-like receptor signaling pathway', 'Ferroptosis', 'Toll-like receptor signaling pathway', 'Chemokine signaling pathway', 'PD-L1 expression and PD-1 checkpoint pathway in cancer', 'Synthesis and degradation of ketone bodied', 'Spjingolipid metabolism', 'Cholesterol metabolism'];
const fate2Scores = [6.14, 5.62, 5.1, 2.88, 3.23, 2.8, 3.78, 3.86, 2.54, 1.93, 2.36, 5.27, 2.16, 2.1];
const fate2Genes = [8, 8, 8, 16, 11, 8, 6, 4, 6, 8, 6, 1, 2, 2];
const fate2Pvalues = [.003, .005, .008, .012, .015, .015, .025, .04, .055, .08, .1, .184, .235, .235];
const enrichTicks = [0, 2, 4, 6, 8, 10];

// ---- panel G: pseudotime strips, shared zero-level cells and gene levels
const timeTicks = [0, 2.5, 5, 7.5, 10, 12.5];
const stateColors = { red: '#dd1c1c', blue: '#8aa9e6', yellow: '#f4d21f', green: '#8db80a' };
const redTimes = [.1,.15,.2,.25,.3,.32,.35,.38,.4,.42,.45,.48,.5,.52,.55,.58,.6,.65,.7,.75,.8,.85,.95,1.05,1.2];
const blueTimes = [1.3,1.45,1.6,1.7,1.85,2,2.1,2.25,2.4,2.5,2.65,2.8,2.9,3.05,3.2,3.3,3.45,3.6,3.7,3.85,4,4.1,4.3,4.4,4.55,4.7,4.85,5,5.1,5.25,5.4,5.55,5.7,5.85,6,6.15,6.3,6.5,6.7,6.85];
const yellowTimes = [7.1,7.2,7.3,7.5,7.65,7.8,7.95,8.1,8.3,8.6,9,9.6,10.2,10.8,11.2,11.4,11.6,11.8,12,12.2,12.3];
const greenTimes = [7.9,8.3,8.5,8.7,8.9,9.1,9.3,9.5,9.7,9.9,10.1,10.3,10.5,10.7,10.9,11,11.05,11.1,11.15,11.2,11.25,11.3,11.35,11.4,11.45,11.5,11.55,11.6,11.65,11.7,11.8,11.9,12];

const chac1Red = [.05,.2,.09,.24,.04,.14,.07,.22,.11,.035,.17,.06,.25,.08,.13,.045,.19,.1,.06,.23,.15,.05,.18,.08,.12];
const chac1Red2 = [.16,.06,.23,.1,.2,.045,.25,.07,.04,.18,.09,.21,.05,.14,.035,.24,.07,.12,.2,.04,.08,.16,.1,.22,.06];
const chac1Blue = [.2,.06,.24,.1,.04,.17,.08,.25,.13,.05,.22,.07,.16,.035,.26,.11,.06,.19,.09,.24,.045,.15,.07,.21,.12,.04,.25,.08,.18,.05,.23,.1,.035,.16,.06,.24,.09,.2,.05,.13];
const chac1Blue2 = [.08,.22,.05,.17,.12,.25,.04,.14,.2,.07,.1,.24,.05,.19,.09,.06,.23,.13,.04,.16,.21,.08,.25,.05,.11,.18,.07,.22,.04,.15,.09,.26,.06,.12,.2,.05,.17,.08,.24,.1];
const chac1Yellow = [.25,.05,.16,.08,.22,.04,.12,.19,.07,.24,.1,.05,.2,.07,.15,.25,.06,.11,.22,.04,.17];
const chac1Yellow2 = [.08,.2,.06,.24,.11,.17,.05,.26,.14,.06,.21,.09,.13,.25,.05,.09,.19,.24,.05,.15,.08];
const chac1Green = [.06,.2,.11,.24,.05,.16,.08,.22,.04,.13,.25,.07,.18,.1,.045,.21,.06,.25,.09,.15,.04,.23,.07,.19,.12,.035,.26,.08,.17,.05,.22,.1,.14];
const chac1Green2 = [.2,.05,.25,.08,.17,.1,.24,.06,.19,.04,.13,.22,.07,.26,.11,.05,.2,.09,.16,.24,.06,.12,.21,.04,.25,.15,.07,.18,.035,.23,.09,.13,.05];
const chac1Extra: [number, number[]][] = [[.55, [10.5]], [1.8, [12.1]]];

type Levels = [number, number[]][];
const hmox1Levels: Levels = [[1,[1.3,1.5,1.7,1.9,2.1,2.3,2.5,2.7,2.9,3.1,3.3,3.6,3.8,4.1,4.4,7.3,7.5,7.7,7.9,8.1,8.4,8.7,9,9.2,9.5,9.8,10.1,10.4,10.7,11,11.2,11.4,11.6,11.8]],[2,[.3,.5,.7,7.4,7.8,8.2,8.6,9,9.4,9.8,10.2,10.6,11,11.2,11.4,11.6,11.8,12]],[3,[.2,.4,.5,1.4,2,2.3,3.2,3.9,4.2,4.8,5.2,5.7,8.3,9,9.4,11,11.2,11.4,11.6,11.8]],[4,[.2,.4,1.1,1.4,1.7,2,3.9,4.6,5.1,5.8,7.3,7.6,9.3,11,11.3,11.6,11.8]],[6,[.3,.5,1.3,1.7,2.1,3,5,5.9,8.5,9.3,11.2,11.5,11.7]],[9,[.3,.5,1.6,2,11.3,11.6,11.8,9.5]],[14,[.3,.6,1.8,2.2,3.5,5,9.2,11.5]],[25,[.4,.9,1.9,2.3,9.2,11.6]],[40,[.5,10.3,11.7]]];
const ptgs2Levels: Levels = [[1,[.2,.4,.5,.6,.7,.9,1.2,1.7,2.3,3,3.5,3.8,4.3,4.7,5,5.3,5.8,6.2,6.7,7.6,8,8.5,8.9,9.3,9.6,9.9,10.2,10.5,10.8,11,11.2,11.4,11.6,11.8]],[2,[.3,.5,.6,.9,1.2,2.5,3,3.7,4.3,4.8,5.2,6,6.6,7.8,8.4,9,9.8,10.4,11,11.3,11.5,11.7,11.9]],[3,[.3,.5,.8,2,3,4.3,5.5,7.5,8.2,9,9.3,9.8,11,11.3,11.6,11.8]],[4,[.3,.4,.6,.9,1.2,9.2,11.4,11.6]],[6,[.5,1,1.3,5,9.1,11.6]],[9,[.5,6.8,11.7]],[20,[4.2,9.8,11.4]]];
const hilpdaLevels: Levels = [[1,[3.5,4.2,7.6,11.2,11.4]],[1.8,[2.4]],[2,[9.5,10.2,11,11.8]],[3,[10.3,11.2,12]],[4,[11.2]],[10,[11.5]]];
const slc3a2Levels: Levels = [[1,[.3,.5,.6,.7,1,1.3,1.6,2,2.3,2.6,3,3.6,4.2,4.7,5.1,5.5,6,6.5,7.5,7.8,8.1,8.4,8.7,9,9.3,9.6,9.9,10.2,10.5,10.8,11,11.1,11.2,11.3,11.4,11.5,11.6,11.7,11.9]],[2,[.3,.4,.6,1.8,2.2,2.7,3,3.4,4.5,4.9,6,7.5,8,8.7,9.1,9.5,11,11.3,11.5,11.7,11.9]],[3,[.3,.4,1.8,11.5,11.7]],[4,[.3]],[6,[11.8]]];
const rsad2Levels: Levels = [[1,[.5,2.2,3,5,5.3,5.6,6,7.4,8.3,9,9.3,9.6,10.2,10.5,11,11.2,11.3,11.4,11.5,11.6,11.8]],[1.8,[2.2,9,10.6,11.2,11.4,11.9]],[3,[12]],[3.9,[6.7,11.8]],[5,[11.4]]];
const nfe2l2Levels: Levels = [[1,[.3,.4,.5,.6,.8,1,1.3,2,2.6,3,3.5,4,4.5,5,5.3,5.6,6,6.3,6.6,7.4,7.6,7.9,8.2,8.5,8.8,9,9.3,9.6,9.9,10.2,10.5,10.8,11,11.2,11.4,11.6,11.8,12]],[2,[.3,.5,.7,.9,1.3,1.7,2,2.4,3,3.6,4,4.4,4.8,5.3,5.7,6.2,7.3,7.8,8.3,8.8,9.2,9.6,10,10.5,11,11.2,11.4,11.6,11.8,12.1]],[3,[.3,.5,.7,.9,1.1,1.5,2,2.4,3.3,3.9,4.5,5,5.6,6.2,7.2,7.7,8.4,9.1,9.7,10.4,11,11.3,11.5,11.8,12]],[4,[.3,.5,1.5,2,2.5,4.3,5,6.3,8,9.3,11.2,11.6]],[5,[.4,.5,7,8]],[7,[.3,1.5,8.1]],[12,[8,8.2,9.3]],[16,[9.3]]];
const tfrcLevels: Levels = [[1,[.2,.3,.4,.5,.7,1.7,2.1,2.4,2.9,4.2,4.5,4.9,5.3,5.6,6,6.4,7.2,7.5,8,8.5,8.9,9.2,9.6,10,10.4,10.8,11,11.2,11.4,11.6,11.8]],[2,[.3,.5,.8,2.3,3,3.6,4.9,5.3,5.7,6.1,7.4,8,8.6,9.1,9.5,10,10.8,11.1,11.4,11.7]],[3,[.3,.4,2,2.4,3.9,6.5,7.6,9,9.3,9.7,11.2,11.5,11.8]],[4,[.3,9.2,9.7,11.4,11.8]],[5,[.3,2.1,4.9,8.8,9.3,11.4]],[7,[1.6,8.2,9.5,9.9,11.5,12]],[11,[.2,.5,3,11.3,11.9]]];

const chac1Curve = [[0,.1],[12.3,.1]];
const hmox1Curve = [[0,1.3],[1,1.45],[2,1.55],[3,1.5],[4,1.3],[5,1.05],[6,.87],[7,.75],[8,.68],[9,.68],[10,.9],[11,1.4],[12,2.6],[12.4,3.6]];
const ptgs2Curve = [[0,.6],[1,.53],[2,.46],[3,.41],[4,.38],[5,.36],[6,.36],[7,.36],[8,.37],[9,.38],[10,.39],[11,.41],[12.3,.47]];
const hilpdaCurve = [[0,.1],[11.6,.1],[12,.13],[12.3,.2]];
const slc3a2Curve = [[0,.115],[1,.13],[2,.15],[3,.17],[4,.185],[5,.195],[6,.2],[7,.205],[8,.21],[9,.22],[10,.235],[11,.26],[12.3,.3]];
const rsad2Curve = [[0,.1],[11.6,.1],[12,.14],[12.4,.22]];
const nfe2l2Curve = [[0,.42],[1,.48],[2,.55],[3,.61],[4,.67],[5,.72],[6,.76],[7,.78],[8,.76],[9,.71],[10,.63],[11,.53],[12.2,.42]];
const tfrcCurve = [[0,.22],[1,.24],[2,.27],[3,.29],[4,.29],[5,.28],[6,.27],[7,.26],[8,.27],[9,.31],[10,.38],[11,.5],[12.3,.72]];

// ---- helpers
const toPts = (a: number[][]) => a.map(([x, y]) => ({ x, y }));
const hexRgb = (h: string) => [1, 3, 5].map((i) => parseInt(h.slice(i, i + 2), 16));
function ramp(stops: [number, string][], v: number) {
  if (v <= stops[0][0]) return stops[0][1];
  for (let i = 1; i < stops.length; i++) {
    if (v <= stops[i][0]) {
      const t = (v - stops[i - 1][0]) / (stops[i][0] - stops[i - 1][0]);
      const a = hexRgb(stops[i - 1][1]);
      const b = hexRgb(stops[i][1]);
      return `rgb(${a.map((c, k) => Math.round(c + (b[k] - c) * t)).join(',')})`;
    }
  }
  return stops[stops.length - 1][1];
}
const cssRamp = (stops: [number, string][], dir: string) => {
  const lo = stops[0][0];
  const hi = stops[stops.length - 1][0];
  return `linear-gradient(${dir}, ${stops.map(([v, c]) => `${c} ${((v - lo) / (hi - lo)) * 100}%`).join(', ')})`;
};

const Txt = ({ x, y, size = 14, bold = true, color = '#000', anchor = 'middle', rotate = 0, children }: any) => {
  const tx = anchor === 'middle' ? '-50%' : anchor === 'end' ? '-100%' : '0';
  return (
    <div style={{
      position: 'absolute', left: x, top: y, fontSize: size, fontWeight: bold ? 700 : 400, color, whiteSpace: 'nowrap',
      lineHeight: 1, transform: `translate(${tx}, -50%) rotate(${rotate}deg)`,
    }}>{children}</div>
  );
};
const Dot = ({ x, y, r, color = '#000' }: any) => (
  <div style={{ position: 'absolute', left: x - r, top: y - r, width: r * 2, height: r * 2, borderRadius: '50%', background: color }} />
);
const Bar2 = ({ x, y, w, h, bg }: any) => (
  <div style={{ position: 'absolute', left: x, top: y, width: w, height: h, background: bg }} />
);
const Box = ({ left, top, children }: any) => <div style={{ position: 'absolute', left, top }}>{children}</div>;
const noDot = () => <g />;
const dotShape = (r: number) => (p: any) => <circle cx={p.cx} cy={p.cy} r={r} fill={p.fill} fillOpacity={p.fillOpacity} />;

// ---- panel A
function TsneBox({ left, clusters, dash }: any) {
  return (
    <Box left={left} top={55}>
      <ScatterChart width={287} height={298} margin={{ top: 0, right: 0, bottom: 0, left: 0 }}>
        <XAxis type="number" dataKey="x" domain={[0, 100]} hide />
        <YAxis type="number" dataKey="y" domain={[0, 100]} hide />
        {clusterDrawOrder.map((c) => (
          <Scatter key={c} data={toPts(clusters[c])} fill={clusterColors[c]} shape={dotShape(3.9)} isAnimationActive={false} />
        ))}
        <ReferenceArea x1={0} x2={100} y1={0} y2={100} fill="none" stroke="#a8a8a8" strokeWidth={1.5} />
        <ReferenceArea x1={dash[0]} x2={dash[1]} y1={48.3} y2={99.4} fill="none" stroke="#b01515" strokeWidth={3} strokeDasharray="9 5" />
      </ScatterChart>
    </Box>
  );
}

// ---- panels B, C, F
function CompPanel({ x0, x1, y0, y1, xDomain, yDomain, showY, series, dotR, cellFill, trunkWidth = 1.3 }: any) {
  const yW = showY ? 40 : 0;
  const tick = { fontSize: 15, fontWeight: 700, fill: '#111', fontFamily: FONT };
  return (
    <Box left={x0 - yW} top={y0}>
      <ScatterChart width={x1 - x0 + yW} height={y1 - y0 + 34} margin={{ top: 0, right: 0, bottom: 0, left: 0 }}>
        <XAxis type="number" dataKey="x" domain={xDomain} ticks={compXTicks} height={34} tick={tick} tickSize={3} tickMargin={7}
          axisLine={{ stroke: '#b5b5b5', strokeWidth: 1.5 }} tickLine={{ stroke: '#999' }} />
        <YAxis type="number" dataKey="y" domain={yDomain} ticks={compYTicks} width={40} hide={!showY} tick={tick} tickSize={3}
          axisLine={{ stroke: '#b5b5b5', strokeWidth: 1.5 }} tickLine={{ stroke: '#999' }} />
        {series.map((s: any, i: number) => (
          <Scatter key={i} data={toPts(s.pts)} fill={s.color} fillOpacity={s.opacity ?? 1} shape={dotShape(dotR)} isAnimationActive={false}>
            {cellFill ? s.pts.map((_: any, k: number) => (
              <Cell key={k} fill={ramp(scoreStops, scoreSeq[(k + i * 7) % scoreSeq.length])} />
            )) : null}
          </Scatter>
        ))}
        {[trunkFate1, trunkFate2, trunkRoot].map((t, i) => (
          <Scatter key={`t${i}`} data={toPts(t)} line={{ stroke: '#111', strokeWidth: trunkWidth }} shape={noDot} isAnimationActive={false} />
        ))}
      </ScatterChart>
    </Box>
  );
}

const isStem1 = (p: number[]) => p[0] > -3.2;
const isStem2 = (p: number[]) => p[1] > -3.6;
const allFate1 = [...hbptFate1, ...hbtFate1];
const allFate2 = [...hbptFate2, ...hbtFate2];
const pseudoSeries = [
  { pts: [...hbptRoot, ...hbtRoot, ...hbptGrey], color: '#17324f' },
  { pts: [...hbptMid, ...hbtMid], color: '#2b5a86' },
  { pts: allFate1.filter((p) => !isStem1(p)), color: '#58aaf0' },
  { pts: allFate1.filter(isStem1), color: '#3c7fb8' },
  { pts: allFate2.filter((p) => !isStem2(p)), color: '#58aaf0' },
  { pts: allFate2.filter(isStem2), color: '#3f86c4' },
];
const stateSeries = (mid: number[][], root: number[][], grey: number[][], f1: number[][], f2: number[][]) => [
  { pts: mid, color: '#6f8fdc' },
  { pts: root, color: '#cc0d0d' },
  { pts: grey, color: '#808a90' },
  { pts: f1, color: '#7fb800' },
  { pts: f2, color: '#fbc90c' },
];

// ---- panel D
function gradStops(stops: number[], values: number[]) {
  const out: React.ReactNode[] = [];
  stops.forEach((p, i) => {
    out.push(<stop key={i} offset={p} stopColor={ramp(jetStops, values[i])} />);
    if (i < stops.length - 1 && Math.abs(values[i + 1] - values[i]) > 0.8) {
      out.push(<stop key={`m${i}`} offset={(p + stops[i + 1]) / 2} stopColor={ramp(jetStops, (values[i] + values[i + 1]) / 2)} />);
    }
  });
  return out;
}

function HeatBlock({ name, rows, top, rowH }: any) {
  const data = rows.map((_: number[], i: number) => ({ row: i, left: 336, gap: 4, right: 328 }));
  return (
    <Box left={41} top={top}>
      <BarChart layout="vertical" width={668} height={rows.length * rowH} data={data}
        margin={{ top: 0, right: 0, bottom: 0, left: 0 }} barCategoryGap={0} barGap={0}>
        <defs>
          {rows.map((r: number[], i: number) => (
            <React.Fragment key={i}>
              <linearGradient id={`${name}L${i}`} x1="0" x2="1" y1="0" y2="0">{gradStops(heatLeftStops, r.slice(0, 8))}</linearGradient>
              <linearGradient id={`${name}R${i}`} x1="0" x2="1" y1="0" y2="0">{gradStops(heatRightStops, r.slice(7))}</linearGradient>
            </React.Fragment>
          ))}
        </defs>
        <XAxis type="number" domain={[0, 668]} hide />
        <YAxis type="category" dataKey="row" hide />
        <Bar dataKey="left" stackId="h" isAnimationActive={false}>
          {rows.map((_: any, i: number) => <Cell key={i} fill={`url(#${name}L${i})`} />)}
        </Bar>
        <Bar dataKey="gap" stackId="h" fill="#fff" isAnimationActive={false} />
        <Bar dataKey="right" stackId="h" isAnimationActive={false}>
          {rows.map((_: any, i: number) => <Cell key={i} fill={`url(#${name}R${i})`} />)}
        </Bar>
      </BarChart>
    </Box>
  );
}

// ---- panel E
function BubblePanel({ x0, x1, y0, y1, xDomain, xTicks, labels, scores, genes, pvalues, geneDomain, geneRange, pDomain, yPad, labelSize = 18.4, labelW = 330 }: any) {
  const data = scores.map((x: number, i: number) => ({ x, y: i + 1, z: genes[i] }));
  const LabelTick = ({ x, y, payload }: any) => {
    const label: string = labels[payload.value - 1];
    if (!label) return null;
    const lines = label.split('\n');
    const color = label === 'Ferroptosis' ? '#f00000' : '#111';
    return (
      <text textAnchor="end" fontSize={labelSize} fontWeight={700} fill={color} fontFamily={FONT}>
        {lines.map((l, i) => (
          <tspan key={i} x={x} y={y + 5 + (i - (lines.length - 1) / 2) * 18 - (lines.length - 1) * 2}>{l}</tspan>
        ))}
      </text>
    );
  };
  const rowTicks = labels.map((_: string, i: number) => i + 1);
  return (
    <Box left={x0 - labelW} top={y0}>
      <ScatterChart width={x1 - x0 + labelW + 12} height={y1 - y0 + 28} margin={{ top: 0, right: 12, bottom: 0, left: 0 }}>
        <CartesianGrid stroke="#ececec" strokeWidth={1.5} />
        <XAxis type="number" dataKey="x" domain={xDomain} ticks={xTicks} height={28} tickSize={3} tickMargin={7} interval={0}
          tickFormatter={(v: number) => (xDomain[0] === 1 ? v.toFixed(1) : String(v))}
          tick={{ fontSize: 12, fontWeight: 700, fill: '#111', fontFamily: FONT }} axisLine={{ stroke: '#555' }} tickLine={{ stroke: '#888' }} />
        <YAxis type="number" dataKey="y" reversed domain={[1 - yPad, labels.length + yPad]} ticks={rowTicks} width={labelW}
          tick={LabelTick} tickSize={3} tickMargin={5} axisLine={{ stroke: '#555' }} tickLine={{ stroke: '#888' }} interval={0} />
        <ZAxis type="number" dataKey="z" domain={geneDomain} range={geneRange} />
        <ReferenceArea x1={xDomain[0]} x2={xDomain[1]} y1={1 - yPad} y2={labels.length + yPad} fill="none" stroke="#555" strokeWidth={1.2} />
        <Scatter data={data} isAnimationActive={false}>
          {data.map((_: any, i: number) => (
            <Cell key={i} fill={ramp(rdylbuStops, (pvalues[i] - pDomain[0]) / (pDomain[1] - pDomain[0]))} />
          ))}
        </Scatter>
      </ScatterChart>
    </Box>
  );
}

// ---- panel G
function splitByState(levels: Levels) {
  const out: any = { red: [], blue: [], yellow: [], green: [] };
  levels.forEach(([v, ts]) => ts.forEach((t) => {
    const key = t < 1.25 ? 'red' : t < 7.1 ? 'blue' : t < 8.7 || v >= 2.5 ? 'yellow' : 'green';
    out[key].push({ x: t, y: v });
  }));
  return out;
}
const zeroStrip = (times: number[], v = .1) => times.map((x) => ({ x, y: v }));
const zip = (times: number[], vals: number[]) => times.map((x, i) => ({ x, y: vals[i] }));

function Facet({ gene, axisX, xEnd, top, bottom, yDomain, yTicks, xDomain, levels, curve, titleX, titleY, labelX, labelY, showX, cloud, baseR = 1.2 }: any) {
  const byState = splitByState(levels);
  const strips = cloud || {
    red: zeroStrip(redTimes), blue: zeroStrip(blueTimes), yellow: zeroStrip(yellowTimes), green: zeroStrip(greenTimes),
  };
  const yW = 48;
  const keys = ['red', 'blue', 'yellow', 'green'] as const;
  return (
    <>
      <Box left={axisX - yW} top={top}>
        <ScatterChart width={xEnd - axisX + yW + 16} height={bottom - top + (showX ? 28 : 0)} margin={{ top: 0, right: 16, bottom: 0, left: 0 }}>
          <XAxis type="number" dataKey="x" domain={xDomain} ticks={timeTicks} hide={!showX} height={28} tickSize={3} tickMargin={4}
            tickFormatter={(v: number) => v.toFixed(1)} tick={{ fontSize: 15, fontWeight: 700, fill: '#111', fontFamily: FONT }}
            axisLine={{ stroke: '#c4c4c4' }} tickLine={{ stroke: '#aaa' }} interval={0} />
          <YAxis type="number" dataKey="y" scale="log" domain={yDomain} ticks={yTicks} width={yW} tickSize={3} interval={0}
            tickFormatter={(v: number) => v.toFixed(1)} tick={{ fontSize: 15, fontWeight: 700, fill: '#111', fontFamily: FONT }}
            axisLine={{ stroke: '#cfcfcf' }} tickLine={{ stroke: '#bbb' }} />
          {keys.map((k) => (
            <Scatter key={`s${k}`} data={strips[k]} fill={stateColors[k]} fillOpacity={0.75} shape={dotShape(baseR)} isAnimationActive={false} />
          ))}
          {keys.map((k) => (
            <Scatter key={`l${k}`} data={byState[k]} fill={stateColors[k]} fillOpacity={0.65} shape={dotShape(1.1)} isAnimationActive={false} />
          ))}
          <Scatter data={toPts(curve)} line={{ stroke: '#9a9a9a', strokeWidth: 2 }} lineJointType="monotoneX" shape={noDot} isAnimationActive={false} />
        </ScatterChart>
      </Box>
      <Txt x={titleX} y={titleY} size={15}>{gene}</Txt>
      <Txt x={labelX} y={labelY} size={12.5} rotate={-90}>Relative Expression</Txt>
    </>
  );
}

const col1 = { axisX: 830, xEnd: 1108, xDomain: [-.6, 13], labelX: 786 };
const col2 = { axisX: 1184, xEnd: 1456, xDomain: [-.54, 12.73], labelX: 1130 };
const col3 = { axisX: 1532, xEnd: 1804, xDomain: [-.46, 12.9], labelX: 1476 };
const chac1Cloud = {
  red: [...zip(redTimes, chac1Red), ...zip(redTimes, chac1Red2)],
  blue: [...zip(blueTimes, chac1Blue), ...zip(blueTimes, chac1Blue2)],
  yellow: [...zip(yellowTimes, chac1Yellow), ...zip(yellowTimes, chac1Yellow2)],
  green: [...zip(greenTimes, chac1Green), ...zip(greenTimes, chac1Green2)],
};

const StateLegend = ({ y, titleX, xs, size, r }: any) => (
  <>
    <Txt x={titleX} y={y} size={size} bold={false}>State</Txt>
    {stateLabels.map((s, i) => (
      <React.Fragment key={s}>
        <Dot x={xs[i][0]} y={y} r={r} color={stateDots[i]} />
        <Txt x={xs[i][1]} y={y} size={size - 3} bold={false}>{s}</Txt>
      </React.Fragment>
    ))}
  </>
);

const SizeLegend = ({ x, titleY, dots, labelX, pY, pX }: any) => (
  <>
    <Txt x={x + 1} y={titleY} size={10.5}>Gene</Txt>
    <Txt x={x + 1} y={titleY + 12} size={10.5}>Number</Txt>
    {dots.map((d: any) => (
      <React.Fragment key={d.n}>
        <Dot x={d.x} y={d.y} r={d.r} />
        <Txt x={d.lx ?? labelX} y={d.ly ?? d.y} size={11}>{d.n}</Txt>
      </React.Fragment>
    ))}
    <Txt x={pX} y={pY} size={11}>p-value</Txt>
  </>
);

export default function App() {
  const pink = '#e8628f';
  const lilac = '#8a84c8';
  return (
    <div style={{ position: 'absolute', left: 0, top: 0, width: 1819, height: 1989, background: '#fff', overflow: 'hidden', fontFamily: FONT }}>
      {/* A */}
      <Txt x={16} y={18} size={25}>A</Txt>
      <Txt x={166} y={24} size={22}>HBPT neutrophils</Txt>
      <Txt x={454} y={24} size={22}>HBT neutrophils</Txt>
      <TsneBox left={26} clusters={hbptClusters} dash={[17.4, 66.8]} />
      <TsneBox left={317} clusters={hbtClusters} dash={[17.6, 67]} />
      {clusterColors.map((c, i) => (
        <React.Fragment key={c}>
          <Dot x={623} y={78 + i * 27.5} r={6.5} color={c} />
          <Txt x={650} y={78 + i * 27.5} size={14} bold={false} color="#333">{i}</Txt>
        </React.Fragment>
      ))}

      {/* B */}
      <Txt x={692} y={18} size={25}>B</Txt>
      <Txt x={912} y={30} size={19}>Pseudotime</Txt>
      <Bar2 x={990} y={15} w={71} h={23} bg="linear-gradient(to right, #132b43, #56b1f7)" />
      {pseudoTicks.map((t, i) => <Txt key={t} x={990 + i * 17} y={47} size={7.5} bold={false}>{t}</Txt>)}
      <CompPanel x0={749} x1={1096} y0={43} y1={344} xDomain={[-5.35, 6.4]} yDomain={[-5.4, 3.47]} showY dotR={1.6} series={pseudoSeries} trunkWidth={1} />
      <Txt x={710} y={187} size={26.5} rotate={-90}>Component 2</Txt>
      <Txt x={903} y={382} size={22}>Component 1</Txt>
      <Txt x={780} y={110} size={11.5}>Fate 1</Txt>
      <Txt x={776} y={316} size={11.5}>Fate 2</Txt>
      <Txt x={1051} y={199} size={11.5}>Pre-Fate</Txt>

      {/* C */}
      <Txt x={1123} y={18} size={25}>C</Txt>
      <Txt x={1323} y={24} size={21.3}>HBPT neutrophils</Txt>
      <Txt x={1641} y={24} size={21.3}>HBT neutrophils</Txt>
      <StateLegend y={53} titleX={1303} size={20} r={3.5}
        xs={[[1349, 1379], [1406, 1435], [1464, 1493], [1521, 1550], [1579, 1608]]} />
      <CompPanel x0={1169} x1={1479} y0={63} y1={346} xDomain={[-5.4, 6.43]} yDomain={[-5.44, 3.44]} showY dotR={2}
        series={stateSeries(hbptMid, hbptRoot, hbptGrey, hbptFate1, hbptFate2)} />
      <CompPanel x0={1485} x1={1795} y0={63} y1={346} xDomain={[-5.3, 6.5]} yDomain={[-5.44, 3.44]} showY={false} dotR={2}
        series={stateSeries(hbtMid, hbtRoot, [], hbtFate1, hbtFate2)} />
      <Txt x={1127} y={187} size={26.5} rotate={-90}>Component 2</Txt>
      <Txt x={1525} y={382} size={22}>Component 1</Txt>

      {/* D */}
      <Txt x={17} y={425} size={25}>D</Txt>
      <Txt x={66} y={446} size={24} color={pink}>Fate 1</Txt>
      <Txt x={379} y={442} size={27} color="#7a7a7a">Pre-Fate</Txt>
      <Txt x={704} y={446} size={24} color={lilac}>Fate 2</Txt>
      <Bar2 x={41} y={493} w={336} h={10} bg="#999" />
      <Bar2 x={381} y={493} w={328} h={10} bg="#999" />
      <Bar2 x={41} y={493} w={37} h={10} bg="#ee5a78" />
      <Bar2 x={672} y={493} w={37} h={10} bg="#8888cc" />
      <HeatBlock name="top" rows={heatTop} top={507} rowH={8} />
      <HeatBlock name="mid" rows={heatMid} top={996} rowH={7} />
      <HeatBlock name="bot" rows={heatBottom} top={1192} rowH={8} />
      <Bar2 x={740} y={494} w={23} h={346} bg={cssRamp(jetStops, 'to top')} />
      {heatScaleTicks.map((t, i) => <Txt key={t} x={775} y={500 + i * 55.8} size={13} bold={false}>{t}</Txt>)}
      <Txt x={55} y={1447} size={19}>100</Txt>
      <Txt x={378} y={1447} size={19}>0</Txt>
      <Txt x={691} y={1447} size={19}>100</Txt>
      <Txt x={383} y={1476} size={20}>Pseudotime (100%)</Txt>

      {/* E */}
      <Txt x={846} y={424} size={25}>E</Txt>
      <Txt x={1172} y={491} size={24} color={pink}>Fate 1</Txt>
      <Txt x={1671} y={493} size={26} color="#7a7a7a">Pre-Fate</Txt>
      <BubblePanel x0={1070} x1={1256} y0={516} y1={891} xDomain={[1, 6.5]} xTicks={fate1XTicks} labels={fate1Pathways}
        scores={fate1Scores} genes={fate1Genes} pvalues={fate1Pvalues} geneDomain={[2, 17]} geneRange={[28, 120]} pDomain={[.05, .233]} yPad={.45} />
      <Txt x={1167} y={924} size={15}>Enrichment score</Txt>
      <SizeLegend x={1286} titleY={571} labelX={1296} pX={1284} pY={720}
        dots={[{ n: 2, x: 1277, y: 614, r: 2.5 }, { n: 7, x: 1277, y: 654, r: 3.5 }, { n: 17, x: 1277, y: 693, r: 5 }]} />
      <Bar2 x={1266} y={729} w={18} h={105} bg={cssRamp(rdylbuStops, 'to top')} />
      <Txt x={1302} y={748} size={11}>0.2</Txt>
      <Txt x={1302} y={805} size={11}>0.1</Txt>

      <BubblePanel x0={1577} x1={1766} y0={515} y1={890} xDomain={[0, 10]} xTicks={enrichTicks} labels={preFatePathways}
        scores={preFateScores} genes={preFateGenes} pvalues={preFatePvalues} geneDomain={[2, 6]} geneRange={[38, 120]} pDomain={[.02, .173]} yPad={.45} />
      <Txt x={1673} y={924} size={15}>Enrichment score</Txt>
      <SizeLegend x={1787} titleY={571} labelX={1800} pX={1790} pY={720}
        dots={[{ n: 2, x: 1787, y: 614, r: 3 }, { n: 3, x: 1787, y: 654, r: 3.7 }, { n: 6, x: 1787, y: 693, r: 4.5 }]} />
      <Bar2 x={1776} y={729} w={18} h={105} bg={cssRamp(rdylbuStops, 'to top')} />
      <Txt x={1806} y={745} size={11}>0.15</Txt>
      <Txt x={1806} y={779} size={11}>0.1</Txt>
      <Txt x={1806} y={814} size={11}>0.05</Txt>

      <Txt x={1414} y={965} size={24} color={lilac}>Fate 2</Txt>
      <BubblePanel x0={1314} x1={1504} y0={992} y1={1386} xDomain={[0, 10]} xTicks={enrichTicks} labels={fate2Pathways}
        scores={fate2Scores} genes={fate2Genes} pvalues={fate2Pvalues} geneDomain={[1, 16]} geneRange={[20, 110]} pDomain={[.001, .236]} yPad={.65} labelSize={18.6} labelW={540} />
      <Txt x={1422} y={1419} size={15}>Enrichment score</Txt>
      <SizeLegend x={1535} titleY={1055} labelX={1546} pX={1531} pY={1203}
        dots={[{ n: 1, x: 1526, y: 1095, r: 2 }, { n: 7, x: 1526, y: 1137, r: 3.5 }, { n: 16, x: 1526, y: 1178, r: 5, lx: 1564, ly: 1171 }]} />
      <Bar2 x={1514} y={1217} w={19} h={110} bg={cssRamp(rdylbuStops, 'to top')} />
      <Txt x={1567} y={1234} size={11}>0.2</Txt>
      <Txt x={1567} y={1257} size={11}>0.15</Txt>
      <Txt x={1567} y={1281} size={11}>0.1</Txt>
      <Txt x={1567} y={1304} size={11}>0.05</Txt>

      {/* F */}
      <Txt x={15} y={1504} size={25}>F</Txt>
      <Bar2 x={333} y={1553} w={116} h={23} bg={cssRamp(scoreStops, 'to right')} />
      <Txt x={347} y={1541} size={17}>0.0</Txt>
      <Txt x={391} y={1541} size={17}>0.2</Txt>
      <Txt x={429} y={1541} size={17}>0.4</Txt>
      <Txt x={464} y={1565} size={19} anchor="start">Ferroptosis score</Txt>
      <Txt x={237} y={1605} size={22}>HBPT neutrophils</Txt>
      <Txt x={583} y={1605} size={22}>HBT neutrophils</Txt>
      <CompPanel x0={50} x1={386} y0={1625} y1={1929} xDomain={[-5.44, 6.39]} yDomain={[-5.43, 3.54]} showY dotR={2.3} cellFill trunkWidth={1.5}
        series={[{ pts: hbptFate1, color: '#ccf', opacity: .8 }, { pts: hbptFate2, color: '#ccf', opacity: .8 }, { pts: hbptMid, color: '#ccf', opacity: .8 }, { pts: [...hbptRoot, ...hbptGrey], color: '#ccf', opacity: .8 }]} />
      <CompPanel x0={391} x1={727} y0={1625} y1={1929} xDomain={[-5.41, 6.4]} yDomain={[-5.43, 3.54]} showY={false} dotR={2.3} cellFill trunkWidth={1.5}
        series={[{ pts: hbtFate1, color: '#ccf', opacity: .8 }, { pts: hbtFate2, color: '#ccf', opacity: .8 }, { pts: hbtMid, color: '#ccf', opacity: .8 }]} />
      <Txt x={14} y={1750} size={26} rotate={-90}>Component 2</Txt>
      <Txt x={413} y={1969} size={22}>Component 1</Txt>

      {/* G */}
      <Txt x={751} y={1504} size={25}>G</Txt>
      <StateLegend y={1506} titleX={1152} size={24} r={3.5}
        xs={[[1206, 1238], [1272, 1305], [1338, 1371], [1406, 1439], [1472, 1505]]} />
      <Facet {...col1} gene="CHAC1" top={1547} bottom={1657} yDomain={[.032, 2.36]} yTicks={[.1, .3, 1]} levels={chac1Extra} curve={chac1Curve} cloud={chac1Cloud}
        titleX={973} titleY={1542} labelY={1590} />
      <Facet {...col1} gene="HILPDA" top={1677} bottom={1797} yDomain={[.06, 16.7]} yTicks={[.1, 1, 10]} levels={hilpdaLevels} curve={hilpdaCurve} baseR={2}
        titleX={977} titleY={1684} labelY={1733} />
      <Facet {...col1} gene="NFE2L2" top={1828} bottom={1940} yDomain={[.062, 23]} yTicks={[.1, 1, 10]} levels={nfe2l2Levels} curve={nfe2l2Curve} showX
        titleX={980} titleY={1824} labelY={1882} />
      <Facet {...col2} gene="HMOX1" top={1548} bottom={1660} yDomain={[.069, 67]} yTicks={[.1, 1, 10]} levels={hmox1Levels} curve={hmox1Curve}
        titleX={1320} titleY={1544} labelY={1592} />
      <Facet {...col2} gene="SLC3A2" top={1690} bottom={1800} yDomain={[.069, 22]} yTicks={[.1, 1, 10]} levels={slc3a2Levels} curve={slc3a2Curve} baseR={1.7}
        titleX={1315} titleY={1684} labelY={1740} />
      <Facet {...col2} gene="TFRC" top={1827} bottom={1940} yDomain={[.06, 17.3]} yTicks={[.1, 1, 10]} levels={tfrcLevels} curve={tfrcCurve} showX
        titleX={1315} titleY={1824} labelY={1883} />
      <Facet {...col3} gene="PTGS2" top={1550} bottom={1660} yDomain={[.064, 26.8]} yTicks={[.1, 1, 10]} levels={ptgs2Levels} curve={ptgs2Curve}
        titleX={1650} titleY={1548} labelY={1592} />
      <Facet {...col3} gene="RSAD2" top={1690} bottom={1803} yDomain={[.063, 7.2]} yTicks={[.1, .3, 1, 3]} levels={rsad2Levels} curve={rsad2Curve} baseR={2} showX
        titleX={1648} titleY={1689} labelY={1738} />
      <Txt x={974} y={1980} size={22}>Pseudo-time</Txt>
      <Txt x={1328} y={1980} size={22}>Pseudo-time</Txt>
      <Txt x={1663} y={1845} size={22}>Pseudo-time</Txt>

      {/* arrows drawn over the panels */}
      <svg width={1819} height={1989} style={{ position: 'absolute', left: 0, top: 0, pointerEvents: 'none' }}>
        <g fill="none" stroke="#111" strokeWidth={1.9}>
          <path d="M1010.5,123 C995,133 985,133 970,131 C945,129 915,120 895,104 C878,90 865,78 859.5,65" />
          <path d="M859.5,65 L872,66 M859.5,65 L861,82" />
          <path d="M1010.5,192 C1000,186 990,186 981,187 C965,188 935,195 912,213 C895,228 877,265 871,297" strokeWidth={1.4} />
          <path d="M871,297 L866,288 M871,297 L877,288" strokeWidth={1.4} />
        </g>
        <g fill="none" stroke="#111" strokeWidth={1}>
          <path d="M54,472 L694,472 M377,456 L377,487" strokeWidth={1.2} />
          <path d="M54,472 L62,469 L62,475 Z M694,472 L686,469 L686,475 Z" fill="#111" />
        </g>
        <g fill="#111" stroke="#111" strokeWidth={2}>
          <path d="M104,1447 L360,1447 M394,1447 L650,1447" />
          <path d="M96,1447 L106,1442 L106,1452 Z M658,1447 L648,1442 L648,1452 Z" />
        </g>
      </svg>
    </div>
  );
}
